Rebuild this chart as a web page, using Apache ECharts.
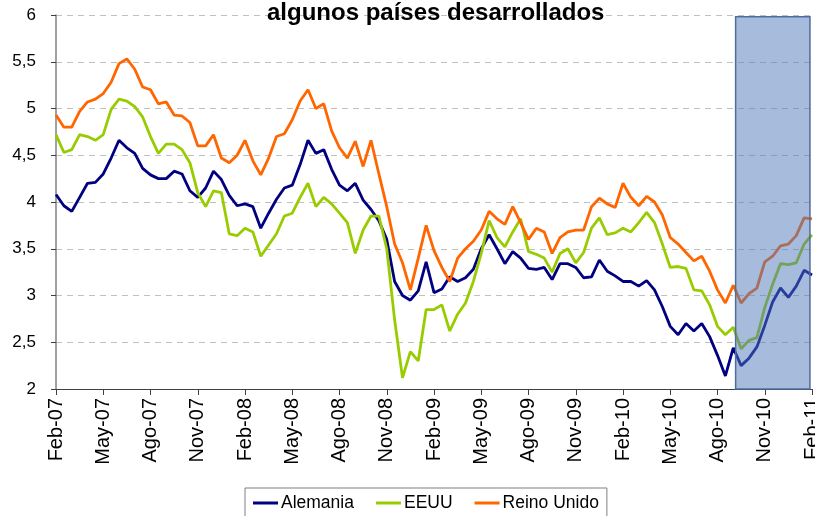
<!DOCTYPE html>
<html>
<head>
<meta charset="utf-8">
<script src="https://cdn.jsdelivr.net/npm/echarts@6/dist/echarts.min.js"></script>
<style>
  html, body { margin: 0; padding: 0; background: #fff; }
  #chart { width: 815px; height: 516px; }
</style>
</head>
<body>
<div id="chart"></div>
<script>
// etiquetas del eje X (una cada trimestre)
const xLabels = ['Feb-07', 'May-07', 'Ago-07', 'Nov-07', 'Feb-08', 'May-08', 'Ago-08', 'Nov-08',
  'Feb-09', 'May-09', 'Ago-09', 'Nov-09', 'Feb-10', 'May-10', 'Ago-10', 'Nov-10', 'Feb-11']

// un valor cada medio mes desde Feb-07
const step = 0.5

const alemania = [4.08, 3.96, 3.90, 4.05, 4.20, 4.21, 4.30, 4.47, 4.66, 4.58, 4.52, 4.36, 4.29, 4.25, 4.25, 4.33,
  4.30, 4.12, 4.05, 4.15, 4.33, 4.24, 4.07, 3.96, 3.98, 3.95, 3.72, 3.88, 4.03, 4.15, 4.18, 4.40,
  4.66, 4.52, 4.56, 4.35, 4.18, 4.12, 4.20, 4.02, 3.92, 3.80, 3.60, 3.15, 3.00, 2.95, 3.05, 3.36,
  3.03, 3.07, 3.20, 3.15, 3.19, 3.28, 3.50, 3.65, 3.50, 3.34, 3.47, 3.40, 3.29, 3.28, 3.30, 3.17,
  3.34, 3.34, 3.30, 3.19, 3.20, 3.38, 3.26, 3.21, 3.15, 3.15, 3.10, 3.16, 3.06, 2.88, 2.67, 2.58,
  2.70, 2.62, 2.70, 2.56, 2.36, 2.14, 2.44, 2.25, 2.33, 2.45, 2.68, 2.93, 3.08, 2.98, 3.10, 3.27, 3.22]

const eeuu = [4.72, 4.53, 4.56, 4.72, 4.70, 4.66, 4.72, 4.99, 5.10, 5.08, 5.02, 4.91, 4.70, 4.52, 4.62, 4.62,
  4.56, 4.42, 4.10, 3.95, 4.12, 4.10, 3.66, 3.64, 3.72, 3.68, 3.42, 3.54, 3.66, 3.85, 3.88, 4.05,
  4.20, 3.95, 4.05, 3.98, 3.88, 3.78, 3.45, 3.70, 3.85, 3.85, 3.50, 2.74, 2.12, 2.40, 2.30, 2.85,
  2.85, 2.90, 2.62, 2.80, 2.92, 3.15, 3.45, 3.80, 3.62, 3.52, 3.68, 3.82, 3.47, 3.44, 3.40, 3.25,
  3.45, 3.50, 3.35, 3.46, 3.72, 3.83, 3.65, 3.67, 3.72, 3.68, 3.78, 3.89, 3.78, 3.55, 3.30, 3.31,
  3.29, 3.06, 3.05, 2.90, 2.67, 2.58, 2.66, 2.43, 2.52, 2.55, 2.87, 3.12, 3.34, 3.33, 3.35, 3.55, 3.65]

const reinoUnido = [4.93, 4.80, 4.80, 4.97, 5.07, 5.10, 5.16, 5.28, 5.48, 5.53, 5.42, 5.23, 5.20, 5.05, 5.07, 4.93,
  4.92, 4.85, 4.60, 4.60, 4.72, 4.47, 4.42, 4.50, 4.66, 4.44, 4.29, 4.47, 4.70, 4.73, 4.88, 5.08,
  5.20, 5.00, 5.05, 4.76, 4.58, 4.47, 4.65, 4.38, 4.66, 4.30, 3.95, 3.55, 3.35, 3.06, 3.40, 3.75,
  3.48, 3.30, 3.15, 3.40, 3.50, 3.58, 3.70, 3.90, 3.82, 3.76, 3.95, 3.78, 3.60, 3.72, 3.68, 3.45,
  3.62, 3.68, 3.70, 3.70, 3.95, 4.04, 3.98, 3.94, 4.20, 4.05, 3.96, 4.06, 4.00, 3.86, 3.62, 3.55,
  3.46, 3.37, 3.42, 3.26, 3.06, 2.92, 3.11, 2.92, 3.02, 3.08, 3.36, 3.42, 3.53, 3.55, 3.64, 3.83, 3.82]

// zona sombreada (meses desde Feb-07)
const zona = [43.15, 47.87]

function toPairs(arr) {
  return arr.map((v, i) => [i * step, v])
}

const chart = echarts.init(document.getElementById('chart'))
const font = 'Arial, "Liberation Sans", sans-serif'

const lineSeries = (name, data, color) => ({
  name: name,
  type: 'line',
  data: toPairs(data),
  symbol: 'none',
  smooth: false,
  lineStyle: { color: color, width: 2.8 },
  itemStyle: { color: color },
  z: 2
})

chart.setOption({
  animation: false,
  backgroundColor: '#ffffff',
  title: {
    text: 'algunos países desarrollados',
    left: 262,
    top: -4,
    textStyle: { fontFamily: font, fontSize: 24, fontWeight: 'bold', color: '#000' }
  },
  // sin ajuste automático: la última etiqueta queda cortada como en el original
  grid: { left: 56, right: 3, top: 15, bottom: 127, containLabel: false, outerBoundsMode: 'none' },
  xAxis: {
    type: 'value',
    min: 0,
    max: 48,
    interval: 3,
    axisLine: { show: true, lineStyle: { color: '#404040', width: 1 } },
    axisTick: { show: true, length: 6, lineStyle: { color: '#404040' } },
    splitLine: { show: false },
    axisLabel: {
      rotate: 90,
      margin: 9,
      color: '#000',
      fontFamily: font,
      fontSize: 20,
      showMaxLabel: true,
      showMinLabel: true,
      formatter: v => xLabels[Math.round(v / 3)]
    }
  },
  yAxis: {
    type: 'value',
    min: 2,
    max: 6,
    interval: 0.5,
    axisLine: { show: true, lineStyle: { color: '#808080', width: 1.5 } },
    axisTick: { show: true, length: 5, lineStyle: { color: '#404040' } },
    splitLine: { show: true, lineStyle: { color: '#c0c0c0', type: [6, 5], width: 1 } },
    axisLabel: {
      margin: 20,
      color: '#000',
      fontFamily: font,
      fontSize: 17,
      formatter: v => String(v).replace('.', ',')
    }
  },
  legend: {
    data: ['Alemania', 'EEUU', 'Reino Unido'],
    left: 245,
    top: 488,
    padding: [6, 8, 8, 8],
    itemGap: 22,
    itemWidth: 25,
    itemHeight: 3,
    icon: 'rect',
    borderColor: '#7f7f7f',
    borderWidth: 1,
    backgroundColor: '#fff',
    textStyle: { fontFamily: font, fontSize: 17.5, color: '#000', padding: [0, 0, 0, -2] }
  },
  series: [
    lineSeries('Alemania', alemania, '#000080'),
    lineSeries('EEUU', eeuu, '#99cc00'),
    lineSeries('Reino Unido', reinoUnido, '#ff6600'),
    {
      name: 'zona',
      type: 'line',
      data: [],
      z: 5,
      markArea: {
        silent: true,
        z: 6,
        itemStyle: {
          color: 'rgba(80,120,185,0.5)',
          borderColor: '#4f6d9e',
          borderWidth: 1.5
        },
        data: [[{ coord: [zona[0], 5.98] }, { coord: [zona[1], 2] }]]
      }
    }
  ]
})
</script>
</body>
</html>
